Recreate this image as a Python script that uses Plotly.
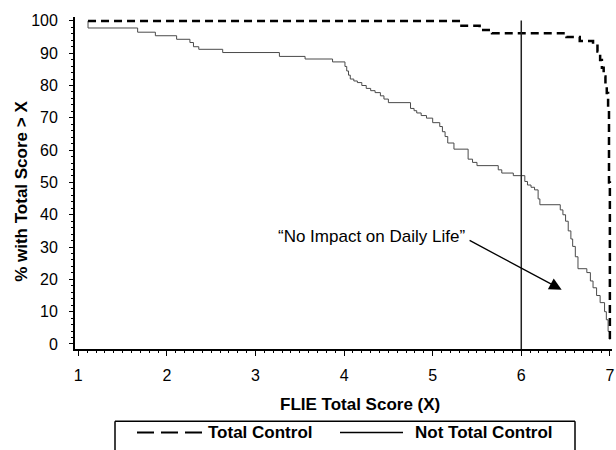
import plotly.graph_objects as go

# ---- data ----
tc_x = [1.11, 5.31, 5.53, 5.67, 6.51, 6.66, 6.81, 6.86, 6.89, 6.91, 6.93, 6.95, 6.965, 6.98, 6.99, 7.0]
tc_y = [100, 98.5, 97.2, 96.2, 95.0, 93.8, 92.8, 90.5, 87.9, 85.5, 82.8, 80.0, 77.7, 72.5, 50.0, 0.0]

ntc_x = [1.11, 1.11, 1.67, 1.87, 2.11, 2.26, 2.30, 2.36, 2.63, 3.27,
         3.56, 3.87, 4.01, 4.03, 4.05, 4.07, 4.11, 4.15, 4.20, 4.25,
         4.30, 4.35, 4.41, 4.45, 4.50, 4.75, 4.79, 4.82, 4.87, 4.93,
         5.00, 5.08, 5.11, 5.14, 5.17, 5.24, 5.40, 5.45, 5.50, 5.74,
         5.78, 5.91, 6.04, 6.07, 6.11, 6.15, 6.19, 6.21, 6.44, 6.47,
         6.50, 6.53, 6.56, 6.58, 6.61, 6.64, 6.74, 6.78, 6.81, 6.85,
         6.89, 6.94, 6.96, 6.98, 7.0]
ntc_y = [100, 97.8, 96.5, 95.4, 94.3, 93.3, 92.0, 91.2, 90.2, 89.0,
         88.2, 87.3, 85.9, 84.5, 83.2, 82.0, 81.4, 80.9, 80.0, 79.1,
         78.4, 77.8, 76.8, 75.8, 74.7, 72.9, 72.2, 71.5, 70.7, 69.9,
         68.5, 67.3, 65.7, 64.2, 62.2, 60.3, 57.2, 56.2, 55.2, 53.9,
         52.9, 52.1, 50.3, 49.2, 48.5, 47.7, 44.9, 43.1, 41.5, 40.0,
         38.0, 35.0, 32.5, 30.2, 27.0, 23.3, 22.1, 19.5, 17.4, 15.0,
         12.8, 10.0, 7.5, 3.9, 1.3]

x_ticks = [1, 2, 3, 4, 5, 6, 7]
y_ticks = [0, 10, 20, 30, 40, 50, 60, 70, 80, 90, 100]
cutoff_x = 6
series_names = ["Total Control", "Not Total Control"]
note_text = "\u201cNo Impact on Daily Life\u201d"
x_title = "FLIE Total Score (X)"
y_title = "% with Total Score > X"

FONT = "Arial, Liberation Sans, sans-serif"

fig = go.Figure()
fig.add_trace(go.Scatter(x=ntc_x, y=ntc_y, mode="lines", name=series_names[1],
                         line=dict(shape="hv", color="#4a4a4a", width=1),
                         showlegend=False))
fig.add_trace(go.Scatter(x=tc_x, y=tc_y, mode="lines", name=series_names[0],
                         line=dict(shape="hv", color="black", width=2.5, dash="8px,5px"),
                         showlegend=False))

# vertical reference line at X = 6
fig.add_shape(type="line", xref="x", yref="y", x0=cutoff_x, x1=cutoff_x, y0=-1.55, y1=100.1,
              line=dict(color="#222222", width=1.5))

# annotation text + arrow
fig.add_annotation(x=4.307, y=33.3, xref="x", yref="y", text=note_text, showarrow=False,
                   xanchor="center", yanchor="middle",
                   font=dict(family=FONT, size=17, color="black"))
fig.add_annotation(x=6.456, y=16.8, ax=5.40, ay=32.3, xref="x", yref="y", axref="x", ayref="y",
                   text="", showarrow=True, arrowhead=2, arrowsize=1.9, arrowwidth=1.3,
                   arrowcolor="black", standoff=0)

# axis titles (as annotations, positioned like the reference)
fig.add_annotation(x=(360 - 75) / 537, y=(349.3 - 405) / 332.3, xref="paper", yref="paper",
                   xanchor="center", yanchor="middle",
                   text="<b>" + x_title + "</b>", showarrow=False,
                   font=dict(family=FONT, size=17, color="black"))
fig.add_annotation(x=(22 - 75) / 537, y=(349.3 - 192) / 332.3, xref="paper", yref="paper",
                   xanchor="center", yanchor="middle", textangle=-90,
                   text="<b>" + y_title + "</b>", showarrow=False,
                   font=dict(family=FONT, size=17, color="black"))

# manual legend box (top, left, right edges)
ly_top = (349.3 - 421.7) / 332.3
ly_bot = (349.3 - 470) / 332.3
lx0 = (115 - 75) / 537
lx1 = (575 - 75) / 537
ly_mid = (349.3 - 433) / 332.3
for (a, b, c, d) in [(lx0, ly_top, lx1, ly_top), (lx0, ly_top, lx0, ly_bot), (lx1, ly_top, lx1, ly_bot)]:
    fig.add_shape(type="line", xref="paper", yref="paper", x0=a, y0=b, x1=c, y1=d,
                  line=dict(color="black", width=1.5))
fig.add_shape(type="line", xref="paper", yref="paper",
              x0=(137 - 75) / 537, x1=(202 - 75) / 537, y0=ly_mid, y1=ly_mid,
              line=dict(color="black", width=2, dash="17px,7px"))
fig.add_shape(type="line", xref="paper", yref="paper",
              x0=(340 - 75) / 537, x1=(403 - 75) / 537, y0=ly_mid, y1=ly_mid,
              line=dict(color="black", width=1.5))
fig.add_annotation(x=(206 - 75) / 537, y=ly_mid, xref="paper", yref="paper",
                   xanchor="left", yanchor="middle",
                   text="<b>" + series_names[0] + "</b>", showarrow=False,
                   font=dict(family=FONT, size=17, color="black"))
fig.add_annotation(x=(413 - 75) / 537, y=ly_mid, xref="paper", yref="paper",
                   xanchor="left", yanchor="middle",
                   text="<b>" + series_names[1] + "</b>", showarrow=False,
                   font=dict(family=FONT, size=17, color="black"))

fig.update_layout(
    width=616, height=450,
    margin=dict(l=75, r=4, t=17, b=101, autoexpand=False),
    paper_bgcolor="white", plot_bgcolor="white",
    font=dict(family=FONT, size=16, color="black"),
    showlegend=False,
    xaxis=dict(range=[0.963, 7.024], tickvals=x_ticks, ticks="outside", ticklen=5, tickwidth=1.2,
               tickcolor="black", showline=True, linecolor="black", linewidth=1.8,
               showgrid=False, zeroline=False, ticklabelstandoff=6, automargin=False,
               tickfont=dict(size=16),
               minor=dict(dtick=0.1, tick0=1, ticks="outside", ticklen=2.5, tickwidth=1, tickcolor="black",
                          showgrid=False)),
    yaxis=dict(range=[-1.55, 101.2], tickvals=y_ticks, ticks="outside", ticklen=4, tickwidth=1.2,
               tickcolor="black", showline=True, linecolor="black", linewidth=1.8,
               showgrid=False, zeroline=False, ticklabelstandoff=8, automargin=False,
               tickfont=dict(size=16),
               minor=dict(dtick=2, tick0=0, ticks="outside", ticklen=2, tickwidth=1, tickcolor="black",
                          showgrid=False)),
)

# remove the browser's default 8px body margin so the figure fills the window exactly
page_fix = ("document.documentElement.style.overflow='hidden';"
            "document.body.style.margin='0';document.body.style.overflow='hidden';")
fig.write_html("out.html", post_script=page_fix, config={"displayModeBar": False})
